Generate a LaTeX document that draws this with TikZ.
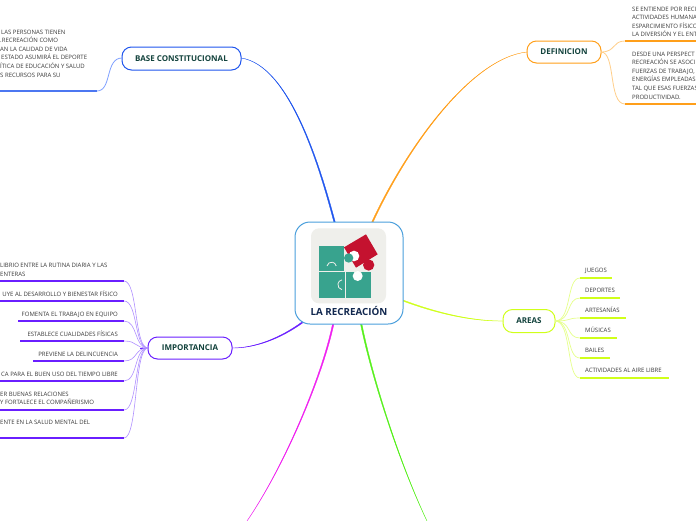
\documentclass[tikz,border=0pt]{standalone}
\usepackage{fontspec}
\setmainfont{Open Sans}
\usetikzlibrary{calc}
\definecolor{cblue}{HTML}{1F55EE}
\definecolor{lblue}{HTML}{7FA0FF}
\definecolor{corange}{HTML}{FF9F1A}
\definecolor{lorange}{HTML}{FFCF8A}
\definecolor{cyellow}{HTML}{D0FF1A}
\definecolor{lyellow}{HTML}{E6FF8A}
\definecolor{cpurple}{HTML}{6A1FFF}
\definecolor{lpurple}{HTML}{B090FF}
\definecolor{cmag}{HTML}{F01FF0}
\definecolor{cgreen}{HTML}{55F01A}
\definecolor{cframe}{HTML}{4A9FDC}
\definecolor{tealp}{HTML}{38A38E}
\definecolor{redp}{HTML}{C4122F}
\definecolor{bgp}{HTML}{EFEFEB}
\definecolor{txt}{HTML}{3A3A3A}
\definecolor{headc}{HTML}{12423C}
\definecolor{rootc}{HTML}{12284F}
\tikzset{
  branch/.style={draw=#1,line width=1pt,rounded corners=9.5pt,fill=white,inner sep=0pt,
    font=\fontsize{8}{9}\selectfont\bfseries,text=headc},
  leaf/.style={inner sep=0pt,font=\fontsize{6}{7}\selectfont,text=txt},
  lw/.style={leaf,anchor=mid west},
  le/.style={leaf,anchor=mid east},
  uline/.style={draw=#1,line width=1.2pt},
  fan/.style={draw=#1,line width=.6pt}
}
\newcommand{\taper}[6]{% colour, start, c1, c2, end, offset
  \draw[#1,line width=.35pt,fill=#1] (#2) .. controls (#3) and (#4) .. (#5)
    .. controls ($(#4)+0.4*(#6)$) and ($(#3)+0.8*(#6)$) .. ($(#2)+(#6)$) -- cycle;}
\begin{document}
\begin{tikzpicture}[x=1pt,y=-1pt]
\useasboundingbox (0,0) rectangle (696,520);
\fill[white] (0,0) rectangle (696,520);

% named ends
\coordinate (rootN1) at (334,222.5);
\coordinate (rootN2) at (371.5,222.5);
\coordinate (rootS1) at (332.5,324);
\coordinate (rootS2) at (360.5,324);
\coordinate (rootE) at (403,300);
\coordinate (rootW) at (302,322);
\coordinate (magEnd) at (247,521);
\coordinate (grnEnd) at (427,521);

% main branches
\coordinate (baseE) at (241,58);
\coordinate (defW) at (527,52);
\coordinate (areaW) at (503,321);
\coordinate (impE) at (232,348);
\taper{cblue}{rootN1}{320,170}{290,65}{baseE}{1.4,0}
\taper{corange}{rootN2}{405,150}{470,58}{defW}{1.4,0}
\taper{cyellow}{rootE}{435,312}{470,321}{areaW}{0,1.1}
\taper{cpurple}{rootW}{280,338}{255,348}{impE}{.8,.8}
\taper{cmag}{rootS1}{322,375}{285,465}{magEnd}{1.4,0}
\taper{cgreen}{rootS2}{372,380}{400,465}{grnEnd}{1.4,0}

% root
\node[draw=cframe,line width=1pt,rounded corners=15pt,fill=white,minimum width=108pt,minimum height=102pt,inner sep=0pt] (root) at (349,273) {};
\node[inner sep=0pt,font=\fontsize{9.8}{11}\selectfont\bfseries,text=rootc] (rootlabel) at (349,311) {LA RECREACIÓN};

% puzzle
\begin{scope}[shift={(280,215)},scale=1/3]
  \fill[bgp,rounded corners=8pt] (93,40) rectangle (318,265);
  \fill[tealp] (117,92) rectangle (193,168);
  \fill[tealp] (117,172) rectangle (193,248);
  \fill[tealp] (197,170) rectangle (272,248);
  \fill[tealp] (186,170) rectangle (200,248);
  \fill[white] (233,183) circle (15);
  \draw[bgp,line width=.8pt] (195,170) -- (195,248);
  \draw[bgp,line width=.8pt] (117,170) -- (195,170);
  \draw[bgp,line width=.8pt] (141,153) arc (190:350:14);
  \draw[bgp,line width=.8pt] (186,224) arc (100:260:15);
  \fill[redp] (192,97) -- (258,58) -- (293,118) -- (228,158) -- cycle;
  \fill[redp] (266,150) circle (17);
  \fill[white] (222,123) circle (16);
  \fill[tealp] (206,129) circle (14);
\end{scope}

% BASE CONSTITUCIONAL
\node[branch=cblue,minimum width=119pt,minimum height=23pt] (base) at (181.5,58.5) {BASE CONSTITUCIONAL};
\coordinate (baseW) at (122,58);
\coordinate (bl1) at (97,91);
\coordinate (bl0) at (-2,91);
\draw[fan=lblue,line width=.8pt] (baseW) .. controls (105,58) and (112,91) .. (bl1);
\draw[uline=cblue!80!white] (bl0) -- (bl1);
\node[lw] (b1) at (1,31.5) {LAS PERSONAS TIENEN};
\node[lw] (b2) at (0,40) {.RECREACIÓN COMO};
\node[lw] (b3) at (0,48.5) {AN LA CALIDAD DE VIDA};
\node[lw] (b4) at (1,57) {ESTADO ASUMIRÁ EL DEPORTE};
\node[lw] (b5) at (0,65.5) {ÍTICA DE EDUCACIÓN Y SALUD};
\node[lw] (b6) at (0,74.5) {S RECURSOS PARA SU};

% DEFINICION
\node[branch=corange,minimum width=74pt,minimum height=22pt] (def) at (564,52) {DEFINICION};
\coordinate (defE) at (601,52);
\coordinate (d1a) at (625,41);
\coordinate (d1b) at (698,41);
\coordinate (d2a) at (625,104);
\coordinate (d2b) at (698,104);
\draw[fan=lorange,line width=.8pt] (defE) .. controls (616,52) and (612,41) .. (d1a);
\draw[fan=lorange,line width=.8pt] (defE) .. controls (616,52) and (608,104) .. (d2a);
\draw[uline=corange] (d1a) -- (d1b);
\draw[uline=corange] (d2a) -- (d2b);
\node[lw] (d11) at (632,8.5) {SE ENTIENDE POR RECI};
\node[lw] (d12) at (632,17) {ACTIVIDADES HUMANA};
\node[lw] (d13) at (632,25.5) {ESPARCIMIENTO FÍSICO};
\node[lw] (d14) at (632,33.5) {LA DIVERSIÓN Y EL ENT};
\node[lw] (d21) at (632,53.5) {DESDE UNA PERSPECT};
\node[lw] (d22) at (632,62) {RECREACIÓN SE ASOCI};
\node[lw] (d23) at (632,70.5) {FUERZAS DE TRABAJO,};
\node[lw] (d24) at (632,79) {ENERGÍAS EMPLEADAS};
\node[lw] (d25) at (632,88) {TAL QUE ESAS FUERZAS};
\node[lw] (d26) at (632,96.5) {PRODUCTIVIDAD.};

% AREAS
\node[branch=cyellow,minimum width=52pt,minimum height=23pt] (areas) at (529,321) {AREAS};
\coordinate (areaE) at (555,321);
\foreach \n/\y/\x/\t in {1/278/612/JUEGOS,2/298/620/DEPORTES,3/318/626/ARTESANÍAS,4/338/617/MÚSICAS,5/358/610/BAILES,6/378/669/ACTIVIDADES AL AIRE LIBRE}{
  \coordinate (aa\n) at (580,\y);
  \coordinate (ab\n) at (\x,\y);
  \draw[fan=lyellow,line width=.7pt] (areaE) .. controls (572,321) and (566,\y) .. (aa\n);
  \draw[uline=cyellow] (aa\n) -- (ab\n);
  \node[lw] (at\n) at (585,\y-7.7) {\t};
}

% IMPORTANCIA
\node[branch=cpurple,minimum width=84pt,minimum height=22pt] (imp) at (190,348) {IMPORTANCIA};
\coordinate (impW) at (148,348);
\coordinate (impF) at (140,348);
\draw[cpurple,line width=1pt] (impF) -- (impW);
\foreach \n/\y/\x in {1/281/-2,2/301/-2,3/321/18,4/341/20,5/361/33,6/381/-2,7/410/-2,8/438/-2}{
  \coordinate (ia\n) at (\x,\y);
  \coordinate (ib\n) at (124,\y);
  \draw[fan=lpurple] (impW) .. controls (134,348) and (138,\y) .. (ib\n);
  \draw[uline=cpurple] (ia\n) -- (ib\n);
}
\node[lw] (i1a) at (0,264.5) {LIBRIO ENTRE LA RUTINA DIARIA Y LAS};
\node[lw] (i1b) at (0,274) {ENTERAS};
\node[le] (i2) at (118,293.5) {UYE AL DESARROLLO Y BIENESTAR FÍSICO};
\node[le] (i3) at (118,313.5) {FOMENTA EL TRABAJO EN EQUIPO};
\node[le] (i4) at (118,333.5) {ESTABLECE CUALIDADES FÍSICAS};
\node[le] (i5) at (118,353.5) {PREVIENE LA DELINCUENCIA};
\node[le] (i6) at (118,373.5) {CA PARA EL BUEN USO DEL TIEMPO LIBRE};
\node[lw] (i7a) at (0,393.5) {ER BUENAS RELACIONES};
\node[lw] (i7b) at (0,402) {Y FORTALECE EL COMPAÑERISMO};
\node[lw] (i8) at (0,421.5) {ENTE EN LA SALUD MENTAL DEL};
\end{tikzpicture}
\end{document}
